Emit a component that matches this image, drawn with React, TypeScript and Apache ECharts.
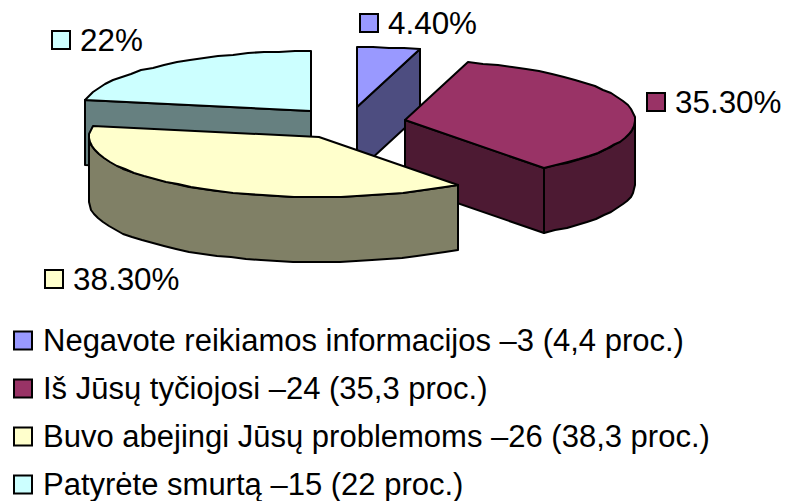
import React, { useEffect, useRef } from "react";
import * as echarts from "echarts";

const categories = [
  "Negavote reikiamos informacijos –3 (4,4 proc.)",
  "Iš Jūsų tyčiojosi –24 (35,3 proc.)",
  "Buvo abejingi Jūsų problemoms –26 (38,3 proc.)",
  "Patyrėte smurtą –15 (22 proc.)",
];
const shares = [4.4, 35.3, 38.3, 22];
const shareLabels = ["4.40%", "35.30%", "38.30%", "22%"];
const topColors = ["#9999FF", "#993366", "#FFFFCC", "#CCFFFF"];
const sideColors = ["#4D4D80", "#4D1A33", "#808066", "#668080"];

// exploded slice apexes and label anchors (pixels)
const apexes = [[357, 107], [405, 120], [319, 137], [311, 111]];
const labelKeys = [[360, 14], [647, 93], [45, 270], [52, 31]];
const RX = 230;
const RY = 60;
const DEPTH = 65;
const FONT = "Liberation Sans";
const FONT_SIZE = 31.4;
const LEGEND_FONT_SIZE = 31;
const drawOrder = [0, 3, 1, 2];

const startAngles = shares.map((_, i) =>
  shares.slice(0, i).reduce((s, v) => s + v, 0) * 3.6
);

function rim(cx: number, cy: number, deg: number): number[] {
  const r = (deg * Math.PI) / 180;
  return [Math.round(cx + RX * Math.sin(r)), Math.round(cy - RY * Math.cos(r))];
}
function arc(cx: number, cy: number, a: number, b: number): number[][] {
  const n = Math.max(1, Math.ceil((b - a) / 4));
  const pts: number[][] = [];
  for (let k = 0; k <= n; k++) pts.push(rim(cx, cy, a + ((b - a) * k) / n));
  return pts;
}
const down = (p: number[]) => [p[0], p[1] + DEPTH];

function face(points: number[][], fill: string) {
  return {
    type: "polygon",
    shape: { points },
    style: { fill, stroke: "#000", lineWidth: 2, lineJoin: "round" },
  };
}

function makeRenderItem(i: number) {
  return (_p: unknown, api: any) => {
    const share = api.value(0);
    const a = api.value(1);
    const b = a + share * 3.6;
    const [cx, cy] = apexes[i];
    const [kx, ky] = labelKeys[i];
    const children: any[] = [];
    const side = sideColors[i];
    const rimA = rim(cx, cy, a);
    const rimB = rim(cx, cy, b);
    const c = [cx, cy];

    if (Math.sin((a * Math.PI) / 180) < -1e-6) {
      children.push(face([c, rimA, down(rimA), down(c)], side));
    }
    if (Math.sin((b * Math.PI) / 180) > 1e-6) {
      children.push(face([c, rimB, down(rimB), down(c)], side));
    }
    const lo = Math.max(a, 90);
    const hi = Math.min(b, 270);
    if (hi > lo) {
      const top = arc(cx, cy, lo, hi);
      children.push(face([...top, ...top.slice().reverse().map(down)], side));
    }
    children.push(face([c, ...arc(cx, cy, a, b)], topColors[i]));

    children.push({
      type: "rect",
      shape: { x: kx, y: ky, width: 18, height: 18 },
      style: { fill: topColors[i], stroke: "#000", lineWidth: 2 },
    });
    children.push({
      type: "text",
      x: kx + 28,
      y: ky + 9,
      style: {
        text: shareLabels[i],
        fill: "#000",
        font: `${FONT_SIZE}px "${FONT}"`,
        textAlign: "left",
        textVerticalAlign: "middle",
      },
    });
    return { type: "group", children };
  };
}

export default function App() {
  const ref = useRef<HTMLDivElement>(null);
  useEffect(() => {
    const chart = echarts.init(ref.current!, null, { renderer: "svg" });
    chart.setOption({
      animation: false,
      backgroundColor: "#fff",
      legend: {
        orient: "vertical",
        left: 8,
        top: 320,
        height: 300,
        itemWidth: 18,
        itemHeight: 18,
        itemGap: 17,
        selectedMode: false,
        icon: "rect",
        textStyle: { fontFamily: FONT, fontSize: LEGEND_FONT_SIZE, color: "#000", padding: [0, 0, 0, 6] },
        data: categories.map((name, i) => ({
          name,
          icon: "rect",
          itemStyle: { color: topColors[i], borderColor: "#000", borderWidth: 2 },
        })),
      },
      series: drawOrder.map((i) => ({
        type: "custom",
        name: categories[i],
        coordinateSystem: "none",
        silent: true,
        itemStyle: { color: topColors[i] },
        renderItem: makeRenderItem(i),
        data: [[shares[i], startAngles[i]]],
      })),
    });
    return () => chart.dispose();
  }, []);
  return <div ref={ref} style={{ position: "fixed", left: 0, top: 0, width: 786, height: 501 }} />;
}
